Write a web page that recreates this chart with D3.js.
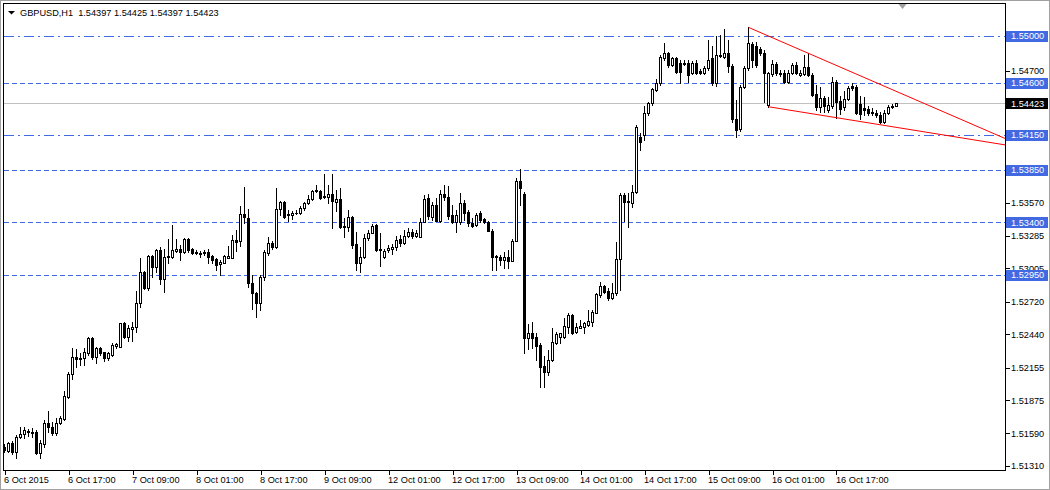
<!DOCTYPE html>
<html><head><meta charset="utf-8">
<script src="https://cdn.jsdelivr.net/npm/d3@7/dist/d3.min.js"></script>
<style>
html,body{margin:0;padding:0;background:#fff;}
svg{display:block;font-family:"Liberation Sans",Arial,sans-serif;}
</style></head>
<body><svg id="c" width="1050" height="490"></svg>
<script>
// ---------------- DATA ----------------
const symbolTitle = "GBPUSD,H1";
const lastBarOHLC = [1.54397, 1.54425, 1.54397, 1.54423];

const timeLabels = ["6 Oct 2015","6 Oct 17:00","7 Oct 09:00","8 Oct 01:00","8 Oct 17:00","9 Oct 09:00",
  "12 Oct 01:00","12 Oct 17:00","13 Oct 09:00","14 Oct 01:00","14 Oct 17:00","15 Oct 09:00","16 Oct 01:00","16 Oct 17:00"];
const timeLabelBars = [0,16,32,48,64,80,96,112,128,144,160,176,192,208];

const priceTicks = [1.54700,1.53570,1.53285,1.53005,1.52720,1.52440,1.52155,1.51875,1.51590,1.51310];

const levelPrices = [1.55000,1.54600,1.54150,1.53850,1.53400,1.52950];
const levelKinds  = ["dashdot","dash","dashdot","dash","dash","dash"];
const currentPrice = 1.54423;

// trend lines: [barIndex, price] anchor pairs
const upperTrend = [[186,1.55074],[201,1.54851]];
const lowerTrend = [[191,1.54393],[219,1.54238]];

const open = [
1.51473,1.51439,1.51507,1.51433,1.51561,1.51585,1.51602,1.51599,1.51604,1.51424,
1.51499,1.51679,1.51647,1.51596,1.51681,1.51713,1.51905,1.52099,1.52245,1.52226,
1.52237,1.52282,1.52408,1.52245,1.52322,1.52286,1.52237,1.52262,1.52342,1.52334,
1.52537,1.52414,1.52483,1.52500,1.52711,1.52972,1.52840,1.53112,1.53015,1.53163,
1.52912,1.53101,1.53106,1.53157,1.53168,1.53149,1.53258,1.53169,1.53149,1.53135,
1.53135,1.53144,1.53112,1.53086,1.53041,1.53054,1.53097,1.53097,1.53249,1.53243,
1.53472,1.53435,1.52878,1.52797,1.52706,1.52929,1.53138,1.53223,1.53189,1.53515,
1.53575,1.53475,1.53464,1.53481,1.53481,1.53524,1.53567,1.53601,1.53672,1.53672,
1.53627,1.53621,1.53644,1.53578,1.53601,1.53363,1.53361,1.53446,1.53215,1.53054,
1.53106,1.53266,1.53312,1.53378,1.53169,1.53106,1.53163,1.53169,1.53186,1.53258,
1.53226,1.53283,1.53320,1.53283,1.53277,1.53406,1.53609,1.53449,1.53549,1.53415,
1.53644,1.53618,1.53464,1.53404,1.53404,1.53569,1.53492,1.53392,1.53378,1.53483,
1.53427,1.53406,1.53329,1.53106,1.53106,1.53078,1.53101,1.53072,1.53243,1.53755,
1.53644,1.52406,1.52449,1.52414,1.52348,1.52168,1.52119,1.52220,1.52368,1.52419,
1.52419,1.52505,1.52606,1.52462,1.52497,1.52505,1.52520,1.52548,1.52625,1.52777,
1.52854,1.52814,1.52754,1.52792,1.53086,1.53635,1.53578,1.53569,1.53658,1.54135,
1.54150,1.54336,1.54422,1.54536,1.54594,1.54808,1.54851,1.54751,1.54808,1.54765,
1.54762,1.54770,1.54685,1.54770,1.54702,1.54685,1.54722,1.54808,1.54599,1.54830,
1.54817,1.54851,1.54742,1.54285,1.54199,1.54564,1.54722,1.54931,1.54914,1.54885,
1.54851,1.54407,1.54673,1.54759,1.54673,1.54685,1.54607,1.54685,1.54751,1.54665,
1.54673,1.54736,1.54665,1.54502,1.54388,1.54465,1.54365,1.54399,1.54607,1.54444,
1.54388,1.54456,1.54570,1.54564,1.54416,1.54379,1.54371,1.54345,1.54341,1.54322,
1.54264,1.54341,1.54388,1.54397];

const high = [
1.51499,1.51519,1.51525,1.51576,1.51647,1.51642,1.51628,1.51633,1.51619,1.51533,
1.51705,1.51784,1.51690,1.51724,1.51739,1.51953,1.52119,1.52320,1.52311,1.52277,
1.52320,1.52417,1.52417,1.52334,1.52334,1.52291,1.52291,1.52363,1.52363,1.52540,
1.52546,1.52520,1.52548,1.52812,1.53092,1.52983,1.53120,1.53120,1.53169,1.53192,
1.53169,1.53258,1.53378,1.53258,1.53206,1.53264,1.53264,1.53178,1.53163,1.53155,
1.53163,1.53169,1.53120,1.53092,1.53078,1.53120,1.53198,1.53292,1.53335,1.53541,
1.53706,1.53515,1.52949,1.52805,1.52949,1.53163,1.53277,1.53241,1.53695,1.53584,
1.53584,1.53506,1.53498,1.53506,1.53541,1.53575,1.53635,1.53678,1.53721,1.53678,
1.53815,1.53721,1.53815,1.53678,1.53695,1.53438,1.53506,1.53455,1.53318,1.53189,
1.53301,1.53335,1.53386,1.53386,1.53307,1.53172,1.53206,1.53215,1.53283,1.53292,
1.53335,1.53352,1.53343,1.53335,1.53438,1.53635,1.53644,1.53575,1.53609,1.53678,
1.53721,1.53712,1.53549,1.53506,1.53652,1.53592,1.53506,1.53438,1.53481,1.53498,
1.53438,1.53412,1.53343,1.53120,1.53120,1.53146,1.53163,1.53258,1.53781,1.53858,
1.53661,1.52528,1.52548,1.52449,1.52365,1.52254,1.52305,1.52492,1.52462,1.52454,
1.52577,1.52620,1.52614,1.52534,1.52563,1.52548,1.52649,1.52649,1.52792,1.52891,
1.52863,1.52835,1.52878,1.53235,1.53650,1.53650,1.53650,1.53721,1.54236,1.54167,
1.54399,1.54433,1.54553,1.54630,1.54836,1.54937,1.54862,1.54819,1.54819,1.54793,
1.54793,1.54793,1.54785,1.54793,1.54716,1.54742,1.54965,1.54914,1.54999,1.55008,
1.55060,1.54965,1.54759,1.54450,1.54579,1.54742,1.55074,1.54948,1.54948,1.54905,
1.54879,1.54691,1.54793,1.54776,1.54708,1.54708,1.54708,1.54768,1.54776,1.54708,
1.54836,1.54851,1.54682,1.54579,1.54562,1.54485,1.54476,1.54648,1.54622,1.54485,
1.54528,1.54570,1.54596,1.54579,1.54485,1.54476,1.54399,1.54382,1.54365,1.54347,
1.54365,1.54407,1.54416,1.54425];

const low = [
1.51430,1.51430,1.51413,1.51376,1.51550,1.51548,1.51567,1.51556,1.51413,1.51376,
1.51476,1.51604,1.51576,1.51576,1.51670,1.51705,1.51891,1.52054,1.52162,1.52177,
1.52177,1.52262,1.52226,1.52191,1.52262,1.52213,1.52220,1.52254,1.52320,1.52327,
1.52408,1.52385,1.52385,1.52460,1.52674,1.52826,1.52820,1.52929,1.52977,1.52869,
1.52805,1.53054,1.53092,1.53149,1.53078,1.53140,1.53149,1.53129,1.53126,1.53106,
1.53120,1.53054,1.53054,1.52992,1.52949,1.53049,1.53092,1.53092,1.53157,1.53198,
1.53392,1.52848,1.52657,1.52591,1.52649,1.52906,1.53120,1.53172,1.53180,1.53464,
1.53435,1.53412,1.53429,1.53472,1.53472,1.53506,1.53558,1.53592,1.53661,1.53601,
1.53609,1.53567,1.53350,1.53498,1.53352,1.53277,1.53326,1.53180,1.52992,1.52977,
1.53095,1.53249,1.53309,1.53155,1.53026,1.53095,1.53146,1.53129,1.53163,1.53198,
1.53215,1.53275,1.53266,1.53275,1.53275,1.53404,1.53429,1.53421,1.53412,1.53404,
1.53592,1.53429,1.53395,1.53320,1.53386,1.53421,1.53369,1.53361,1.53369,1.53404,
1.53395,1.53326,1.52992,1.52992,1.53035,1.53009,1.53009,1.53069,1.53241,1.53549,
1.52282,1.52311,1.52320,1.52220,1.51985,1.51990,1.52091,1.52211,1.52357,1.52368,
1.52406,1.52454,1.52443,1.52454,1.52492,1.52454,1.52514,1.52514,1.52620,1.52763,
1.52792,1.52734,1.52740,1.52777,1.52820,1.53415,1.53363,1.53535,1.53652,1.54021,
1.54107,1.54322,1.54407,1.54528,1.54579,1.54793,1.54733,1.54742,1.54682,1.54594,
1.54751,1.54605,1.54673,1.54673,1.54673,1.54673,1.54708,1.54579,1.54570,1.54819,
1.54811,1.54691,1.54262,1.54133,1.54184,1.54553,1.54708,1.54733,1.54733,1.54836,
1.54436,1.54393,1.54656,1.54665,1.54656,1.54596,1.54596,1.54673,1.54673,1.54656,
1.54665,1.54656,1.54485,1.54365,1.54347,1.54347,1.54347,1.54382,1.54293,1.54330,
1.54365,1.54450,1.54536,1.54330,1.54287,1.54322,1.54322,1.54322,1.54304,1.54253,
1.54253,1.54330,1.54382,1.54397];

const close = [
1.51447,1.51507,1.51430,1.51561,1.51585,1.51619,1.51610,1.51597,1.51419,1.51507,
1.51679,1.51647,1.51596,1.51681,1.51724,1.51911,1.52099,1.52245,1.52231,1.52234,
1.52288,1.52408,1.52245,1.52322,1.52280,1.52234,1.52277,1.52348,1.52354,1.52537,
1.52417,1.52497,1.52505,1.52711,1.52972,1.52835,1.53112,1.53015,1.53163,1.52914,
1.53101,1.53112,1.53163,1.53169,1.53149,1.53258,1.53163,1.53140,1.53135,1.53126,
1.53144,1.53101,1.53078,1.53035,1.53063,1.53112,1.53112,1.53249,1.53235,1.53472,
1.53444,1.52878,1.52797,1.52711,1.52929,1.53149,1.53223,1.53189,1.53515,1.53575,
1.53446,1.53464,1.53483,1.53483,1.53524,1.53569,1.53601,1.53672,1.53678,1.53609,
1.53618,1.53644,1.53586,1.53598,1.53363,1.53369,1.53446,1.53206,1.53054,1.53106,
1.53266,1.53312,1.53369,1.53163,1.53163,1.53157,1.53178,1.53186,1.53249,1.53223,
1.53283,1.53320,1.53283,1.53312,1.53406,1.53601,1.53455,1.53549,1.53415,1.53644,
1.53615,1.53455,1.53404,1.53464,1.53569,1.53483,1.53392,1.53369,1.53464,1.53421,
1.53406,1.53329,1.53106,1.53112,1.53078,1.53101,1.53072,1.53243,1.53755,1.53693,
1.52406,1.52449,1.52406,1.52340,1.52162,1.52119,1.52220,1.52377,1.52443,1.52449,
1.52511,1.52606,1.52454,1.52505,1.52511,1.52534,1.52554,1.52629,1.52783,1.52854,
1.52805,1.52754,1.52792,1.53086,1.53635,1.53578,1.53584,1.53658,1.54216,1.54093,
1.54341,1.54422,1.54542,1.54594,1.54817,1.54851,1.54751,1.54808,1.54693,1.54693,
1.54770,1.54665,1.54770,1.54685,1.54685,1.54722,1.54793,1.54599,1.54836,1.54836,
1.54851,1.54742,1.54285,1.54193,1.54564,1.54722,1.54937,1.54793,1.54751,1.54851,
1.54679,1.54679,1.54759,1.54679,1.54685,1.54607,1.54685,1.54751,1.54685,1.54685,
1.54736,1.54665,1.54493,1.54388,1.54465,1.54399,1.54407,1.54607,1.54436,1.54371,
1.54456,1.54551,1.54551,1.54336,1.54330,1.54365,1.54341,1.54339,1.54322,1.54264,
1.54341,1.54388,1.54399,1.54423];

// ---------------- LAYOUT ----------------
const svg = d3.select("#c");
const plot = {l:3.5, t:3.5, r:1005.5, b:470.5};
const x = d3.scaleLinear().domain([0,250]).range([4.5,1004.5]);
const y = d3.scaleLinear().domain([1.51310,1.55000]).range([466,36]);
const BLUE = "#4169e1";
const fmt = d3.format(".5f");

svg.append("rect").attr("width",1050).attr("height",490).attr("fill","#fff");
svg.append("rect").attr("x",0.5).attr("y",0.5).attr("width",1049).attr("height",489)
  .attr("fill","none").attr("stroke","#a0a0a0");

svg.append("defs").append("clipPath").attr("id","pc").append("rect")
  .attr("x",plot.l).attr("y",plot.t).attr("width",plot.r-plot.l).attr("height",plot.b-plot.t);

const g = svg.append("g").attr("clip-path","url(#pc)").attr("shape-rendering","crispEdges");

// current price line
g.append("line").attr("x1",plot.l).attr("x2",plot.r)
  .attr("y1",Math.round(y(currentPrice))+0.5).attr("y2",Math.round(y(currentPrice))+0.5)
  .attr("stroke","#c0c0c0");

// level lines
levelPrices.forEach((p,k)=>{
  const yy = Math.round(y(p))+0.5;
  g.append("line").attr("x1",plot.l).attr("x2",plot.r).attr("y1",yy).attr("y2",yy)
    .attr("stroke",BLUE).attr("stroke-dasharray", levelKinds[k]==="dash" ? "5,3" : "10,4,2,4");
});

// candles
const n = open.length;
const bars = d3.range(n).map(i=>({i,o:open[i],h:high[i],l:low[i],c:close[i]}));
g.selectAll("line.wick").data(bars).join("line").attr("class","wick")
  .attr("x1",d=>x(d.i)).attr("x2",d=>x(d.i))
  .attr("y1",d=>Math.round(y(d.h))).attr("y2",d=>Math.round(y(d.l))+1)
  .attr("stroke","#000");
bars.forEach(d=>{
  const top = Math.round(y(Math.max(d.o,d.c)));
  const bot = Math.round(y(Math.min(d.o,d.c)));
  const cx = x(d.i);
  if (d.c >= d.o) {
    if (bot-top < 1) {
      g.append("rect").attr("x",cx-1.5).attr("y",top).attr("width",3).attr("height",1).attr("fill","#000");
    } else {
      g.append("rect").attr("x",cx-1).attr("y",top+0.5).attr("width",2).attr("height",bot-top)
        .attr("fill","#fff").attr("stroke","#000");
    }
  } else {
    g.append("rect").attr("x",cx-1.5).attr("y",top).attr("width",3).attr("height",Math.max(1,bot-top+1))
      .attr("fill","#000");
  }
});

// trend lines (rays to right edge)
const xEnd = x.invert(plot.r);
[upperTrend,lowerTrend].forEach(t=>{
  const [a,b] = t;
  const slope = (b[1]-a[1])/(b[0]-a[0]);
  const pEnd = a[1] + slope*(xEnd-a[0]);
  svg.append("line").attr("clip-path","url(#pc)")
    .attr("x1",x(a[0])).attr("y1",y(a[1])).attr("x2",x(xEnd)).attr("y2",y(pEnd))
    .attr("stroke","#ff0000").attr("stroke-width",1);
});

// frame
svg.append("rect").attr("x",plot.l).attr("y",plot.t).attr("width",plot.r-plot.l).attr("height",plot.b-plot.t)
  .attr("fill","none").attr("stroke","#000").attr("shape-rendering","crispEdges");

// shift marker
svg.append("path").attr("d",`M${x(224.5)-4},4 L${x(224.5)+4},4 L${x(224.5)},9 Z`).attr("fill","#a0a0a0");

// price axis ticks
const ax = svg.append("g").attr("shape-rendering","crispEdges");
priceTicks.forEach(p=>{
  const yy = Math.round(y(p))+0.5;
  ax.append("line").attr("x1",plot.r).attr("x2",plot.r+4).attr("y1",yy).attr("y2",yy).attr("stroke","#000");
  svg.append("text").attr("x",1011).attr("y",y(p)+3.4).attr("font-size","9.2px").attr("fill","#000").text(fmt(p));
});
// level labels
levelPrices.forEach(p=>{
  const yy = Math.round(y(p));
  svg.append("rect").attr("x",1006).attr("y",yy-5).attr("width",42).attr("height",11).attr("fill",BLUE);
  svg.append("text").attr("x",1011).attr("y",y(p)+3.4).attr("font-size","9.2px").attr("fill","#fff").text(fmt(p));
});
{
  const yy = Math.round(y(currentPrice));
  svg.append("rect").attr("x",1006).attr("y",yy-5).attr("width",42).attr("height",11).attr("fill","#000");
  svg.append("text").attr("x",1011).attr("y",y(currentPrice)+3.4).attr("font-size","9.2px").attr("fill","#fff").text(fmt(currentPrice));
}

// time axis
timeLabelBars.forEach((b,k)=>{
  const xx = Math.round(x(b))+0.5;
  ax.append("line").attr("x1",xx).attr("x2",xx).attr("y1",plot.b).attr("y2",plot.b+4).attr("stroke","#000");
  svg.append("text").attr("x",x(b)-0.5).attr("y",483).attr("font-size","9.2px").attr("fill","#000").text(timeLabels[k]);
});

// header
svg.append("path").attr("d","M8,11 L15,11 L11.5,14.5 Z").attr("fill","#000");
svg.append("text").attr("x",20).attr("y",16).attr("font-size","9.2px").attr("fill","#000")
  .style("white-space","pre")
  .text(symbolTitle + "  " + lastBarOHLC.map(fmt).join(" "));
</script></body></html>
